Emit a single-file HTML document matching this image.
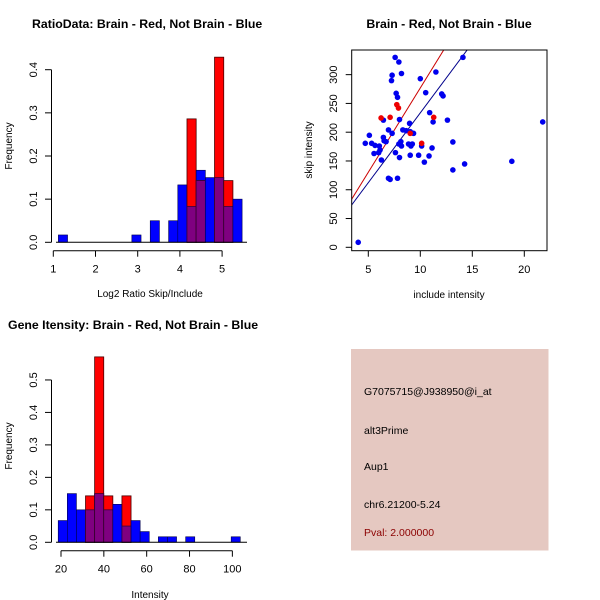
<!DOCTYPE html>
<html><head><meta charset="utf-8"><style>
body{margin:0;background:#fff}
svg{display:block;font-family:"Liberation Sans",sans-serif}
</style></head><body>
<svg id="s" width="600" height="600">
<rect width="600" height="600" fill="#fff"/>
</svg>
<script>
// ---- Panel 1 data: RatioData histogram
const ratioBins = [0,1,2,3,4,5,6,7,8,9,10,11,12,13,14,15,16,17,18,19];
const ratioBlue = [0.017,0,0,0,0,0,0,0,0.017,0,0.05,0,0.05,0.133,0.083,0.167,0.15,0.15,0.083,0.1];
const ratioRed  = [0,0,0,0,0,0,0,0,0,0,0,0,0,0,0.286,0.143,0,0.429,0.143,0];
const ratioXTicks = [1,2,3,4,5];
const ratioYTicks = [0.0,0.1,0.2,0.3,0.4];
// ---- Panel 2 data: scatter
const blueX = [4.03,4.71,5.10,5.32,5.65,5.55,6.06,6.13,6.0,6.26,6.45,6.45,6.52,6.71,6.94,7.29,6.94,7.1,7.29,7.23,7.58,7.68,7.81,7.94,8.0,8.19,7.61,7.81,8.0,7.94,8.13,8.19,8.32,8.65,8.97,9.03,9.35,8.87,9.1,9.23,9.03,9.84,10.0,10.13,10.39,10.52,10.84,10.9,11.13,11.23,11.5,12.06,12.19,12.61,13.13,13.13,14.1,14.26,18.8,21.77];
const blueY = [8.7,180.7,194.6,180.7,177,163,176,169,164.5,151.7,221,191,185,183.6,204,198,120,118,299,289.6,330,267.6,260.6,322,222,302,164.5,120,156,179.5,183.6,176,204,202.7,215.4,201,198,179.5,176,179.5,160,160,293,176,148,268.7,158.7,234,172.6,217.8,304.6,266.4,263,221,183,134.4,330,144.8,149.4,217.8];
const redX = [6.23,7.1,7.74,7.9,9.03,10.13,11.29];
const redY = [224.7,225.9,247.9,242,198,180.7,225.9];
const fitRed = [-16.1,29.3];   // intercept, slope
const fitBlue = [-9,24.26];
const scXTicks = [5,10,15,20];
const scYTicks = [0,50,100,150,200,250,300];
// ---- Panel 3 data: Gene intensity histogram
const intBins = [0,1,2,3,4,5,6,7,8,9,10,11,12,13,14,15,16,17,18,19];
const intBlue = [0.067,0.15,0.1,0.1,0.15,0.1,0.117,0.05,0.067,0.033,0,0.017,0.017,0,0.017,0,0,0,0,0.017];
const intRed  = [0,0,0,0.143,0.571,0.143,0,0.143,0,0,0,0,0,0,0,0,0,0,0,0];
const intXTicks = [20,40,60,80,100];
const intYTicks = [0.0,0.1,0.2,0.3,0.4,0.5];

const S=document.getElementById('s');
const NS='http://www.w3.org/2000/svg';
function mk(tag,at,parent){const e=document.createElementNS(NS,tag);for(const k in at)e.setAttribute(k,at[k]);(parent||S).appendChild(e);return e;}
function txt(str,x,y,at){const e=mk('text',Object.assign({x:x,y:y,'font-size':11,fill:'#000'},at||{}));e.textContent=str;return e;}

function hist(g,opts){
  const {lo,w,xpx,ypx,bins,blue,red,xTicks,yTicks,axisY,x0,x1,fmtY}=opts;
  bins.forEach((k,i)=>{
    const xa=xpx(lo+w*k), xb=xpx(lo+w*(k+1));
    const b=blue[i], r=red[i];
    if(b>0){const e=mk('rect',{x:xa,y:ypx(b),width:xb-xa,height:ypx(0)-ypx(b),fill:'#0000ff',stroke:'#00004a','stroke-width':0.6},g);
      
      }
    if(r>0){const e=mk('rect',{x:xa,y:ypx(r),width:xb-xa,height:ypx(0)-ypx(r),fill:'#ff0000',stroke:'#4a0000','stroke-width':0.8},g);
      
      }
    const m=Math.min(b,r);
    if(m>0){const e=mk('rect',{x:xa,y:ypx(m),width:xb-xa,height:ypx(0)-ypx(m),fill:'#7f0080',stroke:'#3a003a','stroke-width':0.8},g);
      
      }
  });
  // y axis
  const ya=mk('g',{},g);
  mk('line',{x1:51.5,x2:51.5,y1:ypx(yTicks[0]),y2:ypx(yTicks[yTicks.length-1]),stroke:'#000'},ya);
  yTicks.forEach(t=>{const y=ypx(t);mk('line',{x1:45,x2:51.5,y1:y,y2:y,stroke:'#000'},ya);
    const e=txt(t.toFixed(1),37,y,{transform:`rotate(-90 37 ${y})`,'text-anchor':'middle'});ya.appendChild(e);});
  const xa=mk('g',{},g);
  mk('line',{x1:xpx(xTicks[0]),x2:xpx(xTicks[xTicks.length-1]),y1:axisY,y2:axisY,stroke:'#000'},xa);
  xTicks.forEach(t=>{const x=xpx(t);mk('line',{x1:x,x2:x,y1:axisY,y2:axisY+6,stroke:'#000'},xa);
    const e=txt(String(t),x,axisY+22,{'text-anchor':'middle'});xa.appendChild(e);});
  // x baseline under bars
  mk('line',{x1:x0,x2:x1,y1:ypx(0),y2:ypx(0),stroke:'#000'},g);
}

// Panel 1
const g1=mk('g',{});
const x1=v=>53.3+(v-1)*42.2, y1=v=>242.3-v*431.5;
hist(g1,{lo:1.12,w:0.2177,xpx:x1,ypx:y1,bins:ratioBins,blue:ratioBlue,red:ratioRed,xTicks:ratioXTicks,yTicks:ratioYTicks,axisY:250.7,x0:56,x1:247});
let t=txt('RatioData: Brain - Red, Not Brain - Blue',32,28,{'font-size':12.3,'font-weight':'bold'});
t=txt('Log2 Ratio Skip/Include',150,297,{'text-anchor':'middle','font-size':10});
t=txt('Frequency',12,146,{'text-anchor':'middle','font-size':10,transform:'rotate(-90 12 146)'});

// Panel 2
const g2=mk('g',{});
const sx=v=>368.3+(v-5)*10.4, sy=v=>247.3-v*0.5755;
mk('defs',{}).innerHTML='<clipPath id="c2"><rect x="351.7" y="50" width="195.3" height="200.7"/></clipPath>';
const lg=mk('g',{'clip-path':'url(#c2)'},g2);
[[fitRed,'#cc0000','red-fit-line'],[fitBlue,'#00008b','blue-fit-line']].forEach(([f,c,n])=>{
  const e=mk('line',{x1:sx(3.4),y1:sy(f[0]+f[1]*3.4),x2:sx(22.2),y2:sy(f[0]+f[1]*22.2),stroke:c,'stroke-width':1},lg);
  
  
});
blueX.forEach((x,i)=>{const e=mk('circle',{cx:sx(x),cy:sy(blueY[i]),r:2.8,fill:'#0000ee'},g2);
  
  });
redX.forEach((x,i)=>{const e=mk('circle',{cx:sx(x),cy:sy(redY[i]),r:2.8,fill:'#ee0000'},g2);
  
  });
mk('rect',{x:351.7,y:50,width:195.3,height:200.7,fill:'none',stroke:'#000'},g2);
scXTicks.forEach(v=>{const x=sx(v);mk('line',{x1:x,x2:x,y1:250.7,y2:256.7,stroke:'#000'},g2);
  const e=txt(String(v),x,273,{'text-anchor':'middle'});g2.appendChild(e);});
scYTicks.forEach(v=>{const y=sy(v);mk('line',{x1:345.7,x2:351.7,y1:y,y2:y,stroke:'#000'},g2);
  const e=txt(String(v),337,y,{'text-anchor':'middle',transform:`rotate(-90 337 ${y})`});g2.appendChild(e);});
t=txt('Brain - Red, Not Brain - Blue',449,28,{'text-anchor':'middle','font-size':12.3,'font-weight':'bold'});
t=txt('include intensity',449,298,{'text-anchor':'middle','font-size':10});
t=txt('skip intensity',312,150,{'text-anchor':'middle','font-size':10,transform:'rotate(-90 312 150)'});

// Panel 3
const g3=mk('g',{});
const x3=v=>61+(v-20)*2.142, y3=v=>542.3-v*324.7;
hist(g3,{lo:18.7,w:4.25,xpx:x3,ypx:y3,bins:intBins,blue:intBlue,red:intRed,xTicks:intXTicks,yTicks:intYTicks,axisY:550.7,x0:56,x1:247});
t=txt('Gene Itensity: Brain - Red, Not Brain - Blue',8,329,{'font-size':12.3,'font-weight':'bold'});
t=txt('Intensity',150,598,{'text-anchor':'middle','font-size':10});
t=txt('Frequency',12,446,{'text-anchor':'middle','font-size':10,transform:'rotate(-90 12 446)'});

// Panel 4
const g4=mk('g',{});
mk('rect',{x:351,y:349,width:197.5,height:201.5,fill:'#e5c8c1'},g4);
[['G7075715@J938950@i_at',395,'#000','probe-id'],['alt3Prime',434,'#000','event-type'],['Aup1',470,'#000','gene-name'],['chr6.21200-5.24',508,'#000','location'],['Pval: 2.000000',536,'#8b0000','p-value']].forEach(([s,y,c,n])=>{
  const e=txt(s,364,y,{'font-size':10.5,fill:c});
  
  
  g4.appendChild(e);
});
</script>
</body></html>
